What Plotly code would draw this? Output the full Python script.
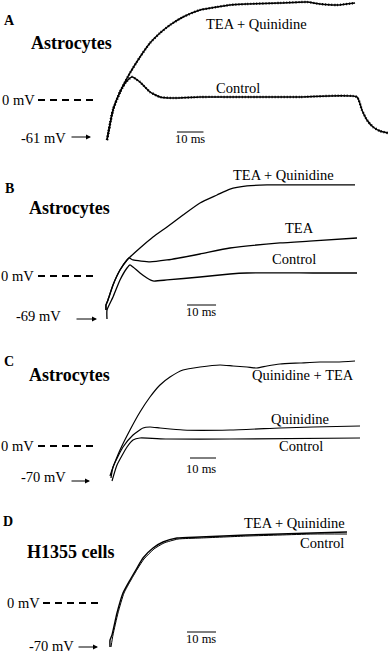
import plotly.graph_objects as go

W, H = 388, 656
FONT = "Liberation Serif"

# ---------------- data (time in ms, membrane potential in mV) ----------------
# Panel A - Astrocytes
a_tq_t = [0, 2.26, 4.91, 8.68, 12.45, 16.23, 20.0, 23.77, 28.68, 35.09, 41.5, 46.4, 52.8, 65.3, 75.5, 80.4, 86.8, 93.6]
a_tq_v = [-61, -15.2, 12.2, 41.2, 65.5, 86.9, 102.1, 114.3, 126.5, 137.2, 141.8, 144.8, 146.3, 147.9, 149.4, 146.3, 144.8, 147.9]
a_ct_t = [0, 2.26, 4.91, 7.17, 9.43, 12.45, 16.23, 20.0, 24.9, 35.1, 54.0, 72.8, 94.3, 96.2, 98.1, 100.4, 103.0, 106.0]
a_ct_v = [-61, -15.2, 12.2, 27.4, 35.1, 27.4, 12.2, 4.6, 3.0, 4.6, 4.6, 4.6, 4.6, -15.2, -30.5, -41.2, -47.3, -50.3]

# Panel B - Astrocytes
b_tq_t = [-0.34, -0.34, 0.34, 2.07, 4.48, 6.90, 7.59, 11.38, 15.86, 20.69, 26.21, 32.07, 37.93, 42.41, 48.28, 55.17, 65.52, 85.52]
b_tq_v = [-54.6, -46.5, -38.5, -14.4, 9.6, 25.7, 28.9, 44.9, 62.6, 78.7, 97.9, 117.2, 130.0, 139.6, 144.5, 146.1, 146.1, 146.1]
b_tea_t = [-0.34, -0.34, 0.34, 2.07, 4.48, 6.90, 7.59, 8.97, 14.83, 20.69, 32.07, 42.41, 59.66, 71.03, 86.21]
b_tea_v = [-54.6, -46.5, -38.5, -14.4, 9.6, 25.7, 28.9, 25.7, 22.5, 25.7, 35.3, 44.9, 53.0, 56.2, 61.0]
b_ct_t = [0, 0, 2.07, 4.48, 6.90, 7.93, 8.97, 11.38, 13.79, 15.86, 20.69, 32.07, 42.41, 48.28, 71.03, 86.21]
b_ct_v = [-69, -54.6, -33.7, -6.4, 12.8, 17.7, 14.4, 4.8, -3.2, -8.0, -6.4, -1.6, 3.2, 4.8, 4.8, 4.8]

# Panel C - Astrocytes
c_qt_t = [0, 0.77, 3.85, 7.69, 11.54, 15.38, 19.23, 23.08, 28.08, 34.62, 42.31, 47.31, 52.69, 56.54, 60.38, 65.38, 73.08, 80.77, 87.31, 94.23]
c_qt_v = [-60, -48, -8, 32, 68, 98, 122, 138, 152, 158, 162, 160, 158, 156, 160, 164, 166, 168, 168, 170]
c_q_t = [0.38, 1.15, 5.0, 8.85, 12.69, 15.38, 19.23, 28.08, 46.15, 65.38, 78.08, 96.15]
c_q_v = [-64, -42, -2, 22, 36, 38, 36, 32, 32, 36, 38, 40]
c_ct_t = [0.77, 2.69, 6.54, 8.85, 11.54, 21.92, 46.15, 96.15]
c_ct_v = [-70, -38, -2, 12, 16, 14, 14, 16]

# Panel D - H1355 cells
d_tq_t = [0, 0, 0.69, 2.41, 4.48, 6.90, 9.31, 11.38, 14.83, 18.28, 23.10, 31.03, 47.24, 58.62, 70.0, 81.72]
d_tq_v = [-70, -58.9, -50.9, -15.9, 15.9, 36.6, 55.6, 71.5, 87.4, 97.0, 103.3, 104.9, 108.1, 109.7, 111.3, 112.9]
d_ct_t = [0.34, 1.03, 2.76, 4.83, 7.24, 9.66, 11.72, 15.17, 18.62, 23.45, 31.03, 47.24, 58.62, 70.0, 81.72]
d_ct_v = [-70, -50.9, -15.9, 15.9, 36.6, 55.6, 70.0, 85.9, 95.4, 101.7, 103.3, 106.5, 108.1, 109.7, 109.7]

rest_potentials = [-61, -69, -70, -70]
scale_ms = 10

# ---------------- layout helpers ----------------
def px(x):
    return x / W

def py(y):
    return 1 - y / H

panels = [
    dict(top=0, bot=150, xr=[-40.38, 106.04], yr=[-76.2, 152.4]),
    dict(top=155, bot=330, xr=[-36.9, 96.9], yr=[-86.7, 194.2]),
    dict(top=335, bot=500, xr=[-42.31, 106.92], yr=[-108, 222]),
    dict(top=500, bot=656, xr=[-37.93, 95.86], yr=[-84.3, 163.8]),
]

fig = go.Figure()
layout = dict(width=W, height=H, margin=dict(l=0, r=0, t=0, b=0),
              paper_bgcolor="white", plot_bgcolor="white", showlegend=False)
for i, p in enumerate(panels):
    sfx = "" if i == 0 else str(i + 1)
    layout["xaxis" + sfx] = dict(domain=[0, 1], range=p["xr"], visible=False,
                                 anchor="y" + sfx, fixedrange=True)
    layout["yaxis" + sfx] = dict(domain=[py(p["bot"]), py(p["top"])], range=p["yr"],
                                 visible=False, anchor="x" + sfx, fixedrange=True)
fig.update_layout(**layout)

def add_trace(t, v, panel, width=1.3, beads=False):
    sfx = "" if panel == 0 else str(panel + 1)
    fig.add_trace(go.Scatter(x=t, y=v, mode="lines", xaxis="x" + sfx, yaxis="y" + sfx,
                             line=dict(color="black", width=width, shape="spline", smoothing=0.5),
                             hoverinfo="skip"))
    if beads:
        fig.add_trace(go.Scatter(x=t, y=v, mode="lines", xaxis="x" + sfx, yaxis="y" + sfx,
                                 line=dict(color="black", width=2.4, shape="spline", smoothing=0.5,
                                           dash="1px,2px"),
                                 hoverinfo="skip"))

add_trace(a_tq_t, a_tq_v, 0, 1.5, beads=True)
add_trace(a_ct_t, a_ct_v, 0, 1.5, beads=True)
add_trace(b_tq_t, b_tq_v, 1)
add_trace(b_tea_t, b_tea_v, 1)
add_trace(b_ct_t, b_ct_v, 1)
add_trace(c_qt_t, c_qt_v, 2, 1.2)
add_trace(c_q_t, c_q_v, 2, 1.2)
add_trace(c_ct_t, c_ct_v, 2, 1.2)
add_trace(d_tq_t, d_tq_v, 3, 1.4)
add_trace(d_ct_t, d_ct_v, 3, 1.0)

def text(x, y, s, size=14, bold=False, xanchor="center"):
    fig.add_annotation(x=px(x), y=py(y), xref="paper", yref="paper", text=("<b>%s</b>" % s) if bold else s,
                       showarrow=False, xanchor=xanchor, yanchor="middle",
                       font=dict(family=FONT, size=size, color="black"))

def zero_line(panel, x0, x1):
    sfx = "" if panel == 0 else str(panel + 1)
    fig.add_shape(type="line", xref="paper", yref="y" + sfx, x0=px(x0), x1=px(x1), y0=0, y1=0,
                  line=dict(color="black", width=1.8, dash="7px,5px"))

def arrow(x0, x1, y):
    fig.add_annotation(x=px(x1), y=py(y), xref="paper", yref="paper", ax=-(x1 - x0), ay=0,
                       axref="pixel", ayref="pixel", showarrow=True, arrowhead=2, arrowsize=1,
                       arrowwidth=1, arrowcolor="black", text="")

def scale_bar(panel, t0, ypix):
    sfx = "" if panel == 0 else str(panel + 1)
    fig.add_shape(type="line", xref="x" + sfx, yref="paper", x0=t0, x1=t0 + scale_ms,
                  y0=py(ypix), y1=py(ypix), line=dict(color="black", width=1))

LBL = 14.5   # axis-level labels
TR = 14.5    # trace labels

# Panel A
text(9, 20, "A", 14, True)
text(71, 43, "Astrocytes", 18, True)
text(37, 100, "0 mV", LBL, xanchor="right")
zero_line(0, 38, 97)
text(68, 138, "%d mV" % rest_potentials[0], LBL, xanchor="right")
arrow(70, 91, 137)
text(256, 24, "TEA + Quinidine", TR)
text(238, 88, "Control", TR)
scale_bar(0, 26.4, 132)
text(190, 139, "10 ms", 12.5)

# Panel B
text(9, 188, "B", 14, True)
text(69, 208, "Astrocytes", 18, True)
text(36, 276, "0 mV", LBL, xanchor="right")
zero_line(1, 38, 97)
text(63, 316, "%d mV" % rest_potentials[1], LBL, xanchor="right")
arrow(75, 97, 319)
text(283, 175, "TEA + Quinidine", TR)
text(299, 228, "TEA", TR)
text(294, 259, "Control", TR)
scale_bar(1, 27.6, 305)
text(201, 312, "10 ms", 12.5)

# Panel C
text(9, 361, "C", 14, True)
text(69, 375, "Astrocytes", 18, True)
text(36, 446, "0 mV", LBL, xanchor="right")
zero_line(2, 38, 97)
text(68, 477, "%d mV" % rest_potentials[2], LBL, xanchor="right")
arrow(70, 90, 481)
text(303, 375, "Quinidine + TEA", TR)
text(300, 419, "Quinidine", TR)
text(301, 446, "Control", TR)
scale_bar(2, 30.77, 458)
text(201, 469, "10 ms", 12.5)

# Panel D
text(8, 521, "D", 14, True)
text(71, 552, "H1355 cells", 18, True)
text(42, 603, "0 mV", LBL, xanchor="right")
zero_line(3, 43, 100)
text(76, 646, "%d mV" % rest_potentials[3], LBL, xanchor="right")
arrow(77, 98, 647)
text(294, 523, "TEA + Quinidine", TR)
text(322, 543, "Control", TR)
scale_bar(3, 26.55, 632)
text(201, 639, "10 ms", 12.5)

fig.write_html("out.html", config={"displayModeBar": False},
               post_script="document.body.style.margin='0';document.body.style.overflow='hidden';")
